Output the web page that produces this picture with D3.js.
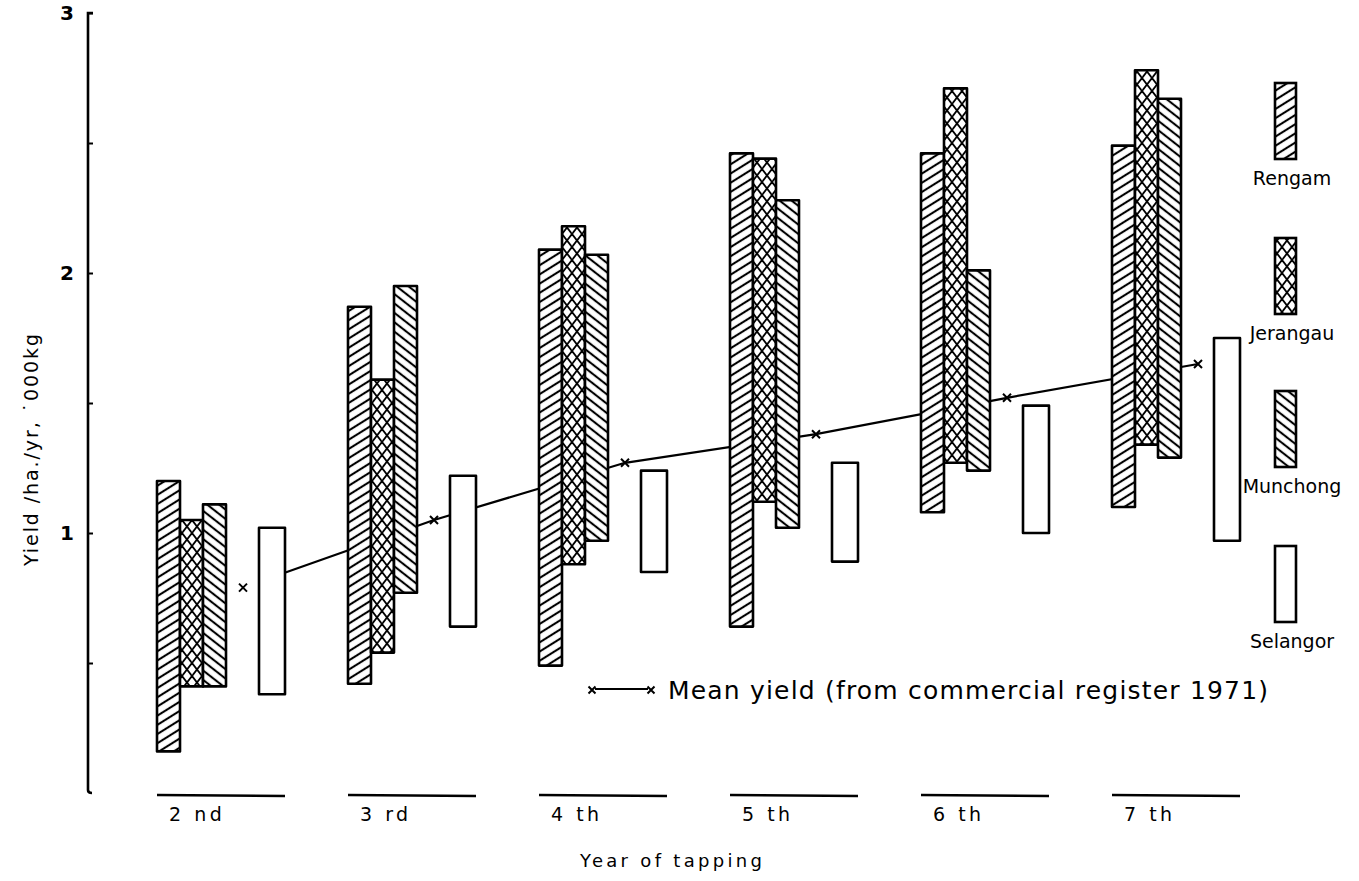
<!DOCTYPE html>
<html>
<head>
<meta charset="utf-8">
<script src="https://cdn.jsdelivr.net/npm/d3@7"></script>
<style>
  html, body { margin: 0; padding: 0; background: #fff; }
  svg { display: block; }
  text { font-family: "DejaVu Sans", "Liberation Sans", sans-serif; fill: #000; }
</style>
</head>
<body>
<svg id="chart" width="1359" height="881"></svg>
<script>
// ---------------- data ----------------
const groups = ["2 nd", "3 rd", "4 th", "5 th", "6 th", "7 th"];
const clones = ["Rengam", "Jerangau", "Munchong"];
const rengamLow     = [0.16, 0.42, 0.49, 0.64, 1.08, 1.10];
const rengamHigh    = [1.20, 1.87, 2.09, 2.46, 2.46, 2.49];
const jerangauLow   = [0.41, 0.54, 0.88, 1.12, 1.27, 1.34];
const jerangauHigh  = [1.05, 1.59, 2.18, 2.44, 2.71, 2.78];
const munchongLow   = [0.41, 0.77, 0.97, 1.02, 1.24, 1.29];
const munchongHigh  = [1.11, 1.95, 2.07, 2.28, 2.01, 2.67];
const selangorLow   = [0.38, 0.64, 0.85, 0.89, 1.00, 0.97];
const selangorHigh  = [1.02, 1.22, 1.24, 1.27, 1.49, 1.75];
const meanYield     = [0.79, 1.05, 1.27, 1.38, 1.52, 1.65];
const yTickValues   = [0.5, 1, 1.5, 2, 2.5, 3];
const yTickLabels   = ["", "1", "", "2", "", "3"];
const legendNames   = ["Rengam", "Jerangau", "Munchong", "Selangor"];
const yLabel = "Yield /ha./yr, \u02D9000kg";
const xLabel = "Year of tapping";
const meanLabel = "Mean yield (from commercial register 1971)";

// ---------------- layout ----------------
const svg = d3.select("#chart");
const y = d3.scaleLinear().domain([0, 3]).range([793, 13]);
const x = d3.scaleBand().domain(groups).range([157, 157 + 191 * 6]).paddingInner(0);
const inner = d3.scaleBand().domain(clones).range([0, 69]);
const meanOffset = 86, selOffset = 102, selWidth = 26;

const defs = svg.append("defs");
function lineHatch(id, angle, spacing) {
  const p = defs.append("pattern").attr("id", id)
    .attr("patternUnits", "userSpaceOnUse")
    .attr("width", 20).attr("height", spacing)
    .attr("patternTransform", `rotate(${angle})`);
  p.append("rect").attr("width", 20).attr("height", spacing).attr("fill", "#fff");
  p.append("line").attr("x1", -2).attr("x2", 22).attr("y1", spacing / 2).attr("y2", spacing / 2)
    .attr("stroke", "#000").attr("stroke-width", 2.1);
}
lineHatch("hatchRengam", -32, 7.8);
lineHatch("hatchMunchong", 38, 7.4);
(function () {
  const a = 10, b = 13;
  const p = defs.append("pattern").attr("id", "hatchJerangau")
    .attr("patternUnits", "userSpaceOnUse").attr("width", a).attr("height", b)
    .attr("x", 2).attr("y", 0);
  p.append("rect").attr("width", a).attr("height", b).attr("fill", "#fff");
  [-1, 0, 1].forEach(k => {
    p.append("line").attr("x1", k * a).attr("y1", 0).attr("x2", k * a + a).attr("y2", b)
      .attr("stroke", "#000").attr("stroke-width", 1.8);
    p.append("line").attr("x1", k * a + a).attr("y1", 0).attr("x2", k * a).attr("y2", b)
      .attr("stroke", "#000").attr("stroke-width", 1.8);
  });
})();
const fills = { Rengam: "url(#hatchRengam)", Jerangau: "url(#hatchJerangau)", Munchong: "url(#hatchMunchong)", Selangor: "#fff" };

// ---------------- y axis ----------------
const axisX = 88;
const yAxis = d3.axisRight(y).tickValues(yTickValues).tickSize(5).tickFormat("");
const ga = svg.append("g").attr("transform", `translate(${axisX},0)`).call(yAxis);
ga.select(".domain").attr("d", `M5,${y(3)}H0V${y(0) - 3}Q0,${y(0)} 4,${y(0)}`)
  .attr("stroke", "#000").attr("stroke-width", 2.6).attr("fill", "none");
ga.selectAll(".tick line").attr("stroke", "#000").attr("stroke-width", 2);
svg.append("g").selectAll("text").data(yTickValues.map((v, i) => ({ v, t: yTickLabels[i] })).filter(d => d.t))
  .join("text")
  .attr("x", axisX - 14).attr("y", d => y(d.v) + 7)
  .attr("text-anchor", "end").attr("font-size", 20).attr("font-weight", "bold")
  .text(d => d.t);
svg.append("text")
  .attr("transform", `translate(38,${450}) rotate(-90)`)
  .attr("text-anchor", "middle").attr("font-size", 19)
  .attr("textLength", 232).attr("lengthAdjust", "spacing")
  .text(yLabel);

// ---------------- mean line (drawn under bars) ----------------
const meanPts = groups.map((g, i) => [x(g) + meanOffset, y(meanYield[i])]);
const sx = x(groups[0]) + selOffset + selWidth / 2;
const t0 = (sx - meanPts[0][0]) / (meanPts[1][0] - meanPts[0][0]);
const startPt = [sx, meanPts[0][1] + t0 * (meanPts[1][1] - meanPts[0][1])];
svg.append("path")
  .attr("d", d3.line()([startPt, ...meanPts.slice(1)]))
  .attr("fill", "none").attr("stroke", "#000").attr("stroke-width", 2.2);

// ---------------- bars ----------------
const clonesData = {
  Rengam: [rengamLow, rengamHigh],
  Jerangau: [jerangauLow, jerangauHigh],
  Munchong: [munchongLow, munchongHigh]
};
const barRows = [];
groups.forEach((g, i) => {
  clones.forEach(c => barRows.push({ x0: x(g) + inner(c), w: inner.bandwidth(), lo: clonesData[c][0][i], hi: clonesData[c][1][i], c }));
  barRows.push({ x0: x(g) + selOffset, w: selWidth, lo: selangorLow[i], hi: selangorHigh[i], c: "Selangor" });
});
svg.append("g").selectAll("rect").data(barRows).join("rect")
  .attr("x", d => d.x0).attr("width", d => d.w)
  .attr("y", d => y(d.hi)).attr("height", d => y(d.lo) - y(d.hi))
  .attr("fill", d => fills[d.c]).attr("stroke", "#000").attr("stroke-width", 2.6)
  .attr("stroke-linejoin", "round");

function cross(sel, cx, cy, r) {
  sel.append("path").attr("d", `M${cx - r},${cy - r}L${cx + r},${cy + r}M${cx + r},${cy - r}L${cx - r},${cy + r}`)
    .attr("stroke", "#000").attr("stroke-width", 2).attr("fill", "none");
}
const gm = svg.append("g");
meanPts.forEach(p => cross(gm, p[0], p[1], 4));

// ---------------- x axis group underlines & labels ----------------
const gx = svg.append("g");
groups.forEach(g => {
  gx.append("line").attr("x1", x(g)).attr("x2", x(g) + 128).attr("y1", 795).attr("y2", 796)
    .attr("stroke", "#000").attr("stroke-width", 2.4);
  gx.append("text").attr("x", x(g) + 12).attr("y", 821)
    .attr("font-size", 19).attr("letter-spacing", 3.5).text(g);
});
svg.append("text").attr("x", 671).attr("y", 867).attr("text-anchor", "middle")
  .attr("font-size", 18).attr("textLength", 182).attr("lengthAdjust", "spacing").text(xLabel);

// ---------------- mean yield legend ----------------
const lg = svg.append("g");
cross(lg, 592, 690, 3.5);
cross(lg, 651, 690, 3.5);
lg.append("line").attr("x1", 595).attr("x2", 648).attr("y1", 689).attr("y2", 689)
  .attr("stroke", "#000").attr("stroke-width", 2);
lg.append("text").attr("x", 668).attr("y", 699).attr("font-size", 25)
  .attr("textLength", 600).attr("lengthAdjust", "spacing").text(meanLabel);

// ---------------- clone legend ----------------
const legY = [83, 238, 391, 546];
const legG = svg.append("g");
legendNames.forEach((n, i) => {
  legG.append("rect").attr("x", 1275).attr("y", legY[i]).attr("width", 21).attr("height", 76)
    .attr("fill", fills[n]).attr("stroke", "#000").attr("stroke-width", 2.6);
  legG.append("text").attr("x", 1292).attr("y", legY[i] + 102).attr("text-anchor", "middle")
    .attr("font-size", 19).text(n);
});
</script>
</body>
</html>
